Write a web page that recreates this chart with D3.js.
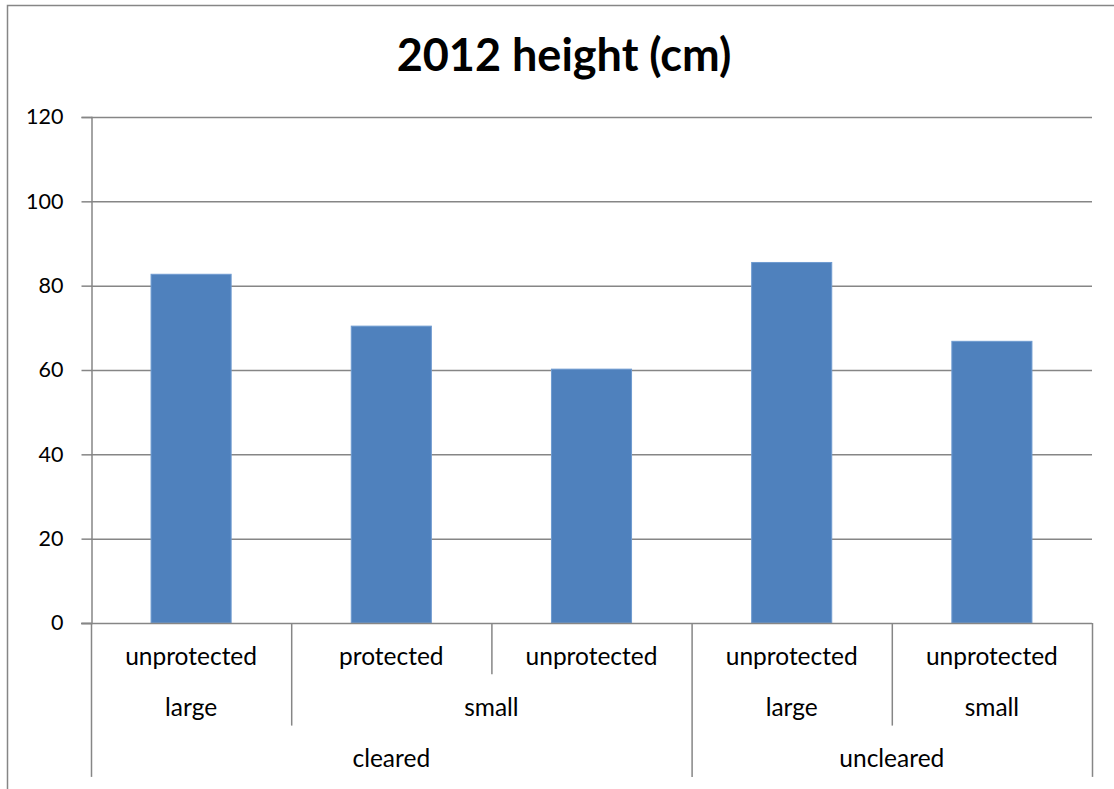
<!DOCTYPE html>
<html>
<head>
<meta charset="utf-8">
<script src="https://cdn.jsdelivr.net/npm/d3@7"></script>
<style>
  html, body { margin: 0; padding: 0; background: #fff; }
  svg { display: block; }
  text { font-family: Lato, "Open Sans", sans-serif; fill: #000; }
</style>
</head>
<body>
<svg id="chart" width="1114" height="789"></svg>
<script>
// Mean plant height in 2012, by treatment (three-level category axis)
const treatments = ["unprotected", "protected", "unprotected", "unprotected", "unprotected"];
const sizes      = ["large", "small", "small", "large", "small"];
const sites      = ["cleared", "cleared", "cleared", "uncleared", "uncleared"];
const heights    = [82.7, 70.4, 60.2, 85.5, 66.8];
const yTicks     = [0, 20, 40, 60, 80, 100, 120];
const title      = "2012 height (cm)";

const svg = d3.select("#chart");
const W = 1114, H = 789;
const plot = { left: 91, right: 1092, top: 117, bottom: 623 };
const rowH = 51.3;
const gridColor = "#868686";

// chart frame
svg.append("rect")
  .attr("x", 7.5).attr("y", 5.5)
  .attr("width", W + 10).attr("height", H + 10)
  .attr("fill", "none").attr("stroke", gridColor).attr("stroke-width", 1.5);

svg.append("text")
  .attr("x", 564).attr("y", 71)
  .attr("text-anchor", "middle")
  .attr("font-size", 45).attr("font-weight", "bold")
  .text(title);

const idx = heights.map((_, i) => i);
const x = d3.scaleBand().domain(idx).range([plot.left, plot.right])
  .paddingInner(0.6).paddingOuter(0.3);
const y = d3.scaleLinear().domain([0, 120]).range([plot.bottom, plot.top]);

// horizontal gridlines
svg.append("g").selectAll("line").data(yTicks.filter(d => d > 0)).join("line")
  .attr("x1", plot.left).attr("x2", plot.right)
  .attr("y1", d => y(d) + 0.5).attr("y2", d => y(d) + 0.5)
  .attr("stroke", gridColor).attr("stroke-width", 1.5);

// value axis
const yAxis = svg.append("g")
  .attr("transform", `translate(${plot.left + 0.5},0)`)
  .call(d3.axisLeft(y).tickValues(yTicks).tickSize(10).tickPadding(18).tickFormat(d3.format("d")));
yAxis.select(".domain").attr("stroke", gridColor).attr("stroke-width", 1.5);
yAxis.selectAll(".tick line").attr("stroke", gridColor).attr("stroke-width", 1.5);
yAxis.selectAll(".tick text").attr("font-size", 21.5).attr("fill", "#000")
  .style("font-family", "Lato, sans-serif");

// bars
svg.append("g").selectAll("rect").data(idx).join("rect")
  .attr("x", i => x(i)).attr("width", x.bandwidth())
  .attr("y", i => y(heights[i])).attr("height", i => y(0) - y(heights[i]))
  .attr("fill", "#4F81BD").attr("stroke", "#6f9bd0").attr("stroke-width", 1);

// baseline
svg.append("line")
  .attr("x1", plot.left - 10).attr("x2", plot.right)
  .attr("y1", plot.bottom + 0.5).attr("y2", plot.bottom + 0.5)
  .attr("stroke", gridColor).attr("stroke-width", 1.5);

// multi-level category axis
const levels = [
  idx.map(i => sites[i] + "|" + sizes[i] + "|" + i),
  idx.map(i => sites[i] + "|" + sizes[i]),
  idx.map(i => sites[i])
];
const labels = [treatments, sizes, sites];
const step = x.step();
const edge = i => plot.left + i * step;

function groupsOf(keys) {
  const out = [];
  keys.forEach((k, i) => {
    if (out.length && out[out.length - 1].key === k) out[out.length - 1].end = i + 1;
    else out.push({ key: k, start: i, end: i + 1 });
  });
  return out;
}

const catAxis = svg.append("g");
// boundary depth: deepest row whose group starts or ends there
const depth = d3.range(idx.length + 1).map(b => {
  let d = -1;
  levels.forEach((keys, lv) => {
    groupsOf(keys).forEach(g => { if (g.start === b || g.end === b) d = Math.max(d, lv); });
  });
  return d;
});
catAxis.selectAll("line").data(depth).join("line")
  .attr("x1", (d, b) => edge(b) + 0.5).attr("x2", (d, b) => edge(b) + 0.5)
  .attr("y1", plot.bottom).attr("y2", d => plot.bottom + rowH * (d + 1))
  .attr("stroke", gridColor).attr("stroke-width", 1.5);

levels.forEach((keys, lv) => {
  groupsOf(keys).forEach(g => {
    catAxis.append("text")
      .attr("x", (edge(g.start) + edge(g.end)) / 2)
      .attr("y", plot.bottom + rowH * lv + 41.5)
      .attr("text-anchor", "middle")
      .attr("font-size", 24.5)
      .text(labels[lv][g.start]);
  });
});
</script>
</body>
</html>
